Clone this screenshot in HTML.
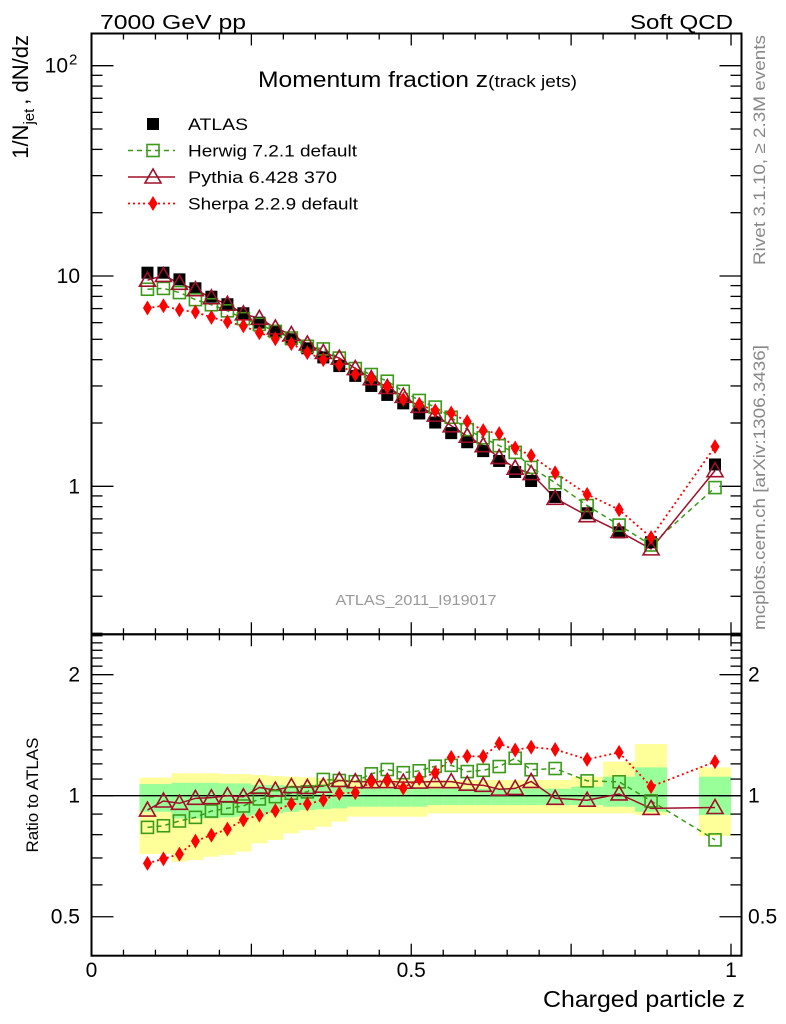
<!DOCTYPE html>
<html><head><meta charset="utf-8"><style>
html,body{margin:0;padding:0;background:#fff;}
svg{display:block;font-family:"Liberation Sans",Arial,sans-serif;}
</style></head><body>
<svg id="chart" width="786" height="1024" viewBox="0 0 786 1024" xmlns="http://www.w3.org/2000/svg">
<g id="bands"></g>
<g id="grid"></g>
<text x="100" y="29" font-size="20" textLength="146" lengthAdjust="spacingAndGlyphs">7000 GeV pp</text>
<text x="733" y="29" font-size="20" text-anchor="end" textLength="103" lengthAdjust="spacingAndGlyphs">Soft QCD</text>
<text x="258" y="87" font-size="22" textLength="319" lengthAdjust="spacingAndGlyphs">Momentum fraction z<tspan font-size="17">(track jets)</tspan></text>
<text transform="translate(28,35) rotate(-90)" font-size="22" text-anchor="end"><tspan>1/N</tspan><tspan font-size="15" dy="6">jet</tspan><tspan dy="-6" dx="4">, dN/dz</tspan></text>
<text transform="translate(38,795) rotate(-90)" font-size="17" text-anchor="middle">Ratio to ATLAS</text>
<text transform="translate(765,35) rotate(-90)" font-size="17" fill="#888" text-anchor="end" textLength="230" lengthAdjust="spacingAndGlyphs">Rivet 3.1.10, ≥ 2.3M events</text>
<text transform="translate(765,630) rotate(-90)" font-size="17" fill="#888" textLength="285" lengthAdjust="spacingAndGlyphs">mcplots.cern.ch [arXiv:1306.3436]</text>
<text x="416" y="605" font-size="15" fill="#999" text-anchor="middle" textLength="161" lengthAdjust="spacingAndGlyphs">ATLAS_2011_I919017</text>
<text x="745" y="1007" font-size="23" text-anchor="end" textLength="202" lengthAdjust="spacingAndGlyphs">Charged particle z</text>
<g id="series"></g>
<g id="legend"></g>
</svg>
<script>
const zCenters=[0.0875,0.1125,0.1375,0.1625,0.1875,0.2125,0.2375,0.2625,0.2875,0.3125,0.3375,0.3625,0.3875,0.4125,0.4375,0.4625,0.4875,0.5125,0.5375,0.5625,0.5875,0.6125,0.6375,0.6625,0.6875,0.725,0.775,0.825,0.875,0.975];
const zHalfWidths=[0.0125,0.0125,0.0125,0.0125,0.0125,0.0125,0.0125,0.0125,0.0125,0.0125,0.0125,0.0125,0.0125,0.0125,0.0125,0.0125,0.0125,0.0125,0.0125,0.0125,0.0125,0.0125,0.0125,0.0125,0.0125,0.025,0.025,0.025,0.025,0.025];
const atlas=[10.37,10.37,9.64,8.74,7.97,7.34,6.65,6.0,5.48,5.0,4.53,4.10,3.73,3.35,3.0,2.72,2.48,2.22,2.01,1.79,1.62,1.47,1.32,1.17,1.06,0.89,0.744,0.604,0.542,1.27];
const herwig=[8.65,8.73,8.34,7.72,7.30,6.83,6.27,5.89,5.45,5.07,4.63,4.50,4.07,3.63,3.40,3.16,2.83,2.56,2.38,2.13,1.86,1.70,1.56,1.45,1.23,1.04,0.81,0.654,0.526,0.986];
const pythia=[9.55,10.06,9.23,8.61,7.88,7.34,6.61,6.29,5.66,5.27,4.75,4.33,4.07,3.63,3.25,2.95,2.68,2.40,2.18,1.94,1.73,1.56,1.37,1.22,1.15,0.877,0.725,0.610,0.504,1.187];
const sherpa=[7.04,7.22,6.90,6.74,6.36,6.06,5.79,5.37,5.03,4.77,4.32,4.00,3.78,3.41,3.25,2.96,2.59,2.45,2.29,2.23,2.03,1.84,1.78,1.52,1.40,1.16,0.916,0.774,0.571,1.543];
const yellowHi=[1.109,1.109,1.137,1.137,1.137,1.132,1.132,1.126,1.119,1.115,1.111,1.104,1.104,1.098,1.098,1.098,1.098,1.098,1.094,1.094,1.094,1.094,1.094,1.094,1.094,1.094,1.115,1.215,1.344,1.176];
const yellowLo=[0.716,0.716,0.685,0.692,0.705,0.712,0.726,0.761,0.776,0.806,0.821,0.837,0.862,0.887,0.887,0.887,0.887,0.887,0.904,0.904,0.904,0.904,0.904,0.904,0.904,0.904,0.904,0.904,0.895,0.794];
const greenHi=[1.069,1.069,1.077,1.077,1.077,1.073,1.073,1.063,1.063,1.059,1.057,1.053,1.049,1.043,1.043,1.043,1.043,1.043,1.041,1.041,1.041,1.041,1.041,1.041,1.041,1.041,1.053,1.115,1.176,1.115];
const greenLo=[0.912,0.912,0.878,0.878,0.878,0.883,0.887,0.895,0.904,0.912,0.921,0.925,0.930,0.939,0.939,0.939,0.939,0.939,0.948,0.948,0.948,0.948,0.948,0.948,0.948,0.948,0.948,0.939,0.912,0.895];
const xTickLabels=["0","0.5","1"];
const xTickValues=[0,0.5,1];
const mainTickValues=[1,10,100];
const ratioTickValues=[0.5,1,2];

const NS="http://www.w3.org/2000/svg";
const X0=91.5,X1=741.5,MT=33.5,MB=634.3,RT=634.3,RB=955.7;
const xS=z=>91.5+z*639.5;
const yM=v=>486.3-210.3*Math.log10(v);
const yR=r=>795.7-402*Math.log10(r);
function mk(tag,attrs,parent){const e=document.createElementNS(NS,tag);for(const k in attrs)e.setAttribute(k,attrs[k]);parent.appendChild(e);return e;}
const bands=document.getElementById('bands');
const grid=document.getElementById('grid');
const series=document.getElementById('series');
const legend=document.getElementById('legend');

for(let i=0;i<zCenters.length;i++){
  const xa=xS(zCenters[i]-zHalfWidths[i]),xb=xS(zCenters[i]+zHalfWidths[i]);
  const y1=mk('rect',{x:xa,y:yR(yellowHi[i]),width:xb-xa,height:yR(yellowLo[i])-yR(yellowHi[i]),fill:'#ffff99'},bands);
  
  
  const g1=mk('rect',{x:xa,y:yR(greenHi[i]),width:xb-xa,height:yR(greenLo[i])-yR(greenHi[i]),fill:'#99ff99'},bands);
  
  
}
const f1=mk('rect',{x:X0,y:MT,width:X1-X0,height:MB-MT,fill:'none',stroke:'#000','stroke-width':2},grid);


const f2=mk('rect',{x:X0,y:RT,width:X1-X0,height:RB-RT,fill:'none',stroke:'#000','stroke-width':2},grid);


const one=mk('line',{x1:X0,x2:X1,y1:yR(1),y2:yR(1),stroke:'#000','stroke-width':1.3},grid);


for(let k=0;k<=20;k++){
  const z=k*0.05,x=xS(z),L=(k%5==0)?12:6;
  for(const [t,d] of [[MT,1],[MB,-1],[RT,1],[RB,-1]]){
    const tl=mk('line',{x1:x,x2:x,y1:t,y2:t+d*L,stroke:'#000','stroke-width':1.3},grid);
    
    
  }
}
xTickValues.forEach((v,i)=>{
  const t=mk('text',{x:xS(v),y:977,'font-size':21,'text-anchor':'middle'},grid);
  t.textContent=xTickLabels[i];
  
  
});
for(let e=-1;e<=2;e++){for(let m=1;m<=9;m++){
  const v=m*Math.pow(10,e);const y=yM(v);if(y<MT||y>MB)continue;
  const L=m==1?22:11;
  for(const [x,d] of [[X0,1],[X1,-1]]){
    const tl=mk('line',{x1:x,x2:x+d*L,y1:y,y2:y,stroke:'#000','stroke-width':1.3},grid);
    
    
  }
}}
const lbl1=mk('text',{x:80,y:yM(1)+7,'font-size':21,'text-anchor':'end'},grid);lbl1.textContent='1';


const lbl10=mk('text',{x:80,y:yM(10)+7,'font-size':21,'text-anchor':'end'},grid);lbl10.textContent='10';


const lbl100=mk('text',{x:68,y:yM(100)+7,'font-size':21,'text-anchor':'end'},grid);lbl100.textContent='10';


const sup=mk('text',{x:69,y:yM(100)-1,'font-size':15},grid);sup.textContent='2';


const rMinor=[0.4,0.5,0.6,0.7,0.8,0.9,1,1.1,1.2,1.3,1.4,1.5,1.6,1.7,1.8,1.9,2,2.1,2.2,2.3,2.4,2.5];
rMinor.forEach(r=>{const y=yR(r);if(y<RT||y>RB)return;const major=ratioTickValues.includes(r);const L=major?22:11;
  for(const [x,d] of [[X0,1],[X1,-1]]){
    const tl=mk('line',{x1:x,x2:x+d*L,y1:y,y2:y,stroke:'#000','stroke-width':1.3},grid);
    
    
  }});
ratioTickValues.forEach(r=>{
  const a=mk('text',{x:80,y:yR(r)+7,'font-size':21,'text-anchor':'end'},grid);a.textContent=String(r);
  
  
  const b=mk('text',{x:748,y:yR(r)+7,'font-size':21},grid);b.textContent=String(r);
  
  
});
function marker(type,x,y,parent){
  let e;
  if(type==='atlas')e=mk('rect',{x:x-6,y:y-6,width:12,height:12,fill:'#000'},parent);
  else if(type==='herwig')e=mk('rect',{x:x-6,y:y-6,width:12,height:12,fill:'none',stroke:'#3c9a1a','stroke-width':1.6},parent);
  else if(type==='pythia')e=mk('polygon',{points:`${x},${y-8} ${x-8},${y+6} ${x+8},${y+6}`,fill:'none',stroke:'#a0102a','stroke-width':1.6},parent);
  else e=mk('polygon',{points:`${x},${y-7.5} ${x-4.5},${y} ${x},${y+7.5} ${x+4.5},${y}`,fill:'#ff0000'},parent);
  return e;
}
const styles={herwig:{stroke:'#3c9a1a',dash:'5,4',w:1.5},pythia:{stroke:'#a0102a',dash:'',w:1.5},sherpa:{stroke:'#ff0000',dash:'2,3',w:1.8}};
const modelData={herwig:herwig,pythia:pythia,sherpa:sherpa};
['herwig','pythia','sherpa'].forEach(name=>{
  const vals=modelData[name],st=styles[name];
  const pm=zCenters.map((z,i)=>xS(z)+','+yM(vals[i])).join(' ');
  const l=mk('polyline',{points:pm,fill:'none',stroke:st.stroke,'stroke-width':st.w,'stroke-dasharray':st.dash},series);
  
  
  const pr=zCenters.map((z,i)=>xS(z)+','+yR(vals[i]/atlas[i])).join(' ');
  const lr=mk('polyline',{points:pr,fill:'none',stroke:st.stroke,'stroke-width':st.w,'stroke-dasharray':st.dash},series);
  
  
});
atlas.forEach((v,i)=>{const m=marker('atlas',xS(zCenters[i]),yM(v),series);
  
  });
['herwig','pythia','sherpa'].forEach(name=>{
  const vals=modelData[name];
  vals.forEach((v,i)=>{
    const m=marker(name,xS(zCenters[i]),yM(v),series);
    
    
    const r=marker(name,xS(zCenters[i]),yR(v/atlas[i]),series);
    
    
  });
});
const legItems=[['atlas','ATLAS',60],['herwig','Herwig 7.2.1 default',169],['pythia','Pythia 6.428 370',149],['sherpa','Sherpa 2.2.9 default',170]];
legItems.forEach((it,i)=>{
  const y=124+i*26.5;
  if(it[0]!=='atlas'){const st=styles[it[0]];
    const ln=mk('line',{x1:128,x2:175,y1:y,y2:y,stroke:st.stroke,'stroke-width':st.w,'stroke-dasharray':st.dash},legend);
    
    }
  const m=marker(it[0],153,y,legend);
  
  
  const t=mk('text',{x:188,y:y+6,'font-size':17,textLength:it[2],lengthAdjust:'spacingAndGlyphs'},legend);t.textContent=it[1];
  
  
});
</script>
</body></html>
